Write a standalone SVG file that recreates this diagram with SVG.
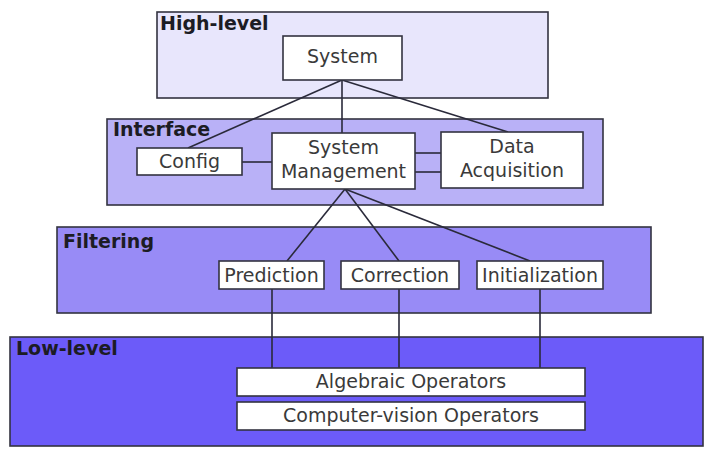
<svg xmlns="http://www.w3.org/2000/svg" width="716" height="450" viewBox="0 0 716 450">
  <style>
    .layer { stroke: #333340; stroke-width: 1.6; }
    .box { fill: #ffffff; stroke: #333340; stroke-width: 1.6; }
    .title { font-family: "DejaVu Sans", sans-serif; font-weight: bold; font-size: 19px; fill: #1c1c24; }
    .txt { font-family: "DejaVu Sans", sans-serif; font-size: 19px; fill: #3a3a3a; text-anchor: middle; }
    .wire { stroke: #2a2a3a; stroke-width: 1.6; fill: none; }
  </style>

  <!-- layers -->
  <g id="layer-high">
    <rect class="layer" x="157" y="12" width="391" height="86" fill="#e8e6fc"/>
    <text class="title" x="160" y="30">High-level</text>
  </g>
  <g id="layer-interface">
    <rect class="layer" x="107" y="119" width="496" height="86" fill="#b9b1f7"/>
    <text class="title" x="113" y="136">Interface</text>
  </g>
  <g id="layer-filtering">
    <rect class="layer" x="57" y="227" width="594" height="86" fill="#988bf6"/>
    <text class="title" x="63" y="248">Filtering</text>
  </g>
  <g id="layer-low">
    <rect class="layer" x="10" y="337" width="693" height="109" fill="#6c5bf9"/>
    <text class="title" x="16" y="355">Low-level</text>
  </g>

  <!-- connectors -->
  <g id="connectors">
    <line class="wire" x1="342" y1="80" x2="188" y2="148"/>
    <line class="wire" x1="342" y1="80" x2="342" y2="133"/>
    <line class="wire" x1="342" y1="80" x2="508" y2="132"/>
    <line class="wire" x1="242" y1="162" x2="272" y2="162"/>
    <line class="wire" x1="415" y1="153" x2="441" y2="153"/>
    <line class="wire" x1="415" y1="172" x2="441" y2="172"/>
    <line class="wire" x1="345" y1="189" x2="287" y2="261"/>
    <line class="wire" x1="345" y1="189" x2="399" y2="261"/>
    <line class="wire" x1="345" y1="189" x2="530" y2="261"/>
    <line class="wire" x1="272" y1="289" x2="272" y2="368"/>
    <line class="wire" x1="399" y1="289" x2="399" y2="368"/>
    <line class="wire" x1="540" y1="289" x2="540" y2="368"/>
  </g>

  <!-- nodes -->
  <g id="system">
    <rect class="box" x="283" y="36" width="119" height="44"/>
    <text class="txt" x="342.5" y="63">System</text>
  </g>
  <g id="config">
    <rect class="box" x="137" y="148" width="105" height="27"/>
    <text class="txt" x="189.5" y="168">Config</text>
  </g>
  <g id="system-management">
    <rect class="box" x="272" y="133" width="143" height="56"/>
    <text class="txt" x="343.5" y="154">System</text>
    <text class="txt" x="343.5" y="178">Management</text>
  </g>
  <g id="data-acquisition">
    <rect class="box" x="441" y="132" width="142" height="56"/>
    <text class="txt" x="512" y="153">Data</text>
    <text class="txt" x="512" y="177">Acquisition</text>
  </g>
  <g id="prediction">
    <rect class="box" x="219" y="261" width="105" height="28"/>
    <text class="txt" x="271.5" y="282">Prediction</text>
  </g>
  <g id="correction">
    <rect class="box" x="341" y="261" width="118" height="28"/>
    <text class="txt" x="400" y="282">Correction</text>
  </g>
  <g id="initialization">
    <rect class="box" x="477" y="261" width="126" height="28"/>
    <text class="txt" x="540" y="282">Initialization</text>
  </g>
  <g id="algebraic-operators">
    <rect class="box" x="237" y="368" width="348" height="28"/>
    <text class="txt" x="411" y="388">Algebraic Operators</text>
  </g>
  <g id="cv-operators">
    <rect class="box" x="237" y="402" width="348" height="28"/>
    <text class="txt" x="411" y="422">Computer-vision Operators</text>
  </g>
</svg>
